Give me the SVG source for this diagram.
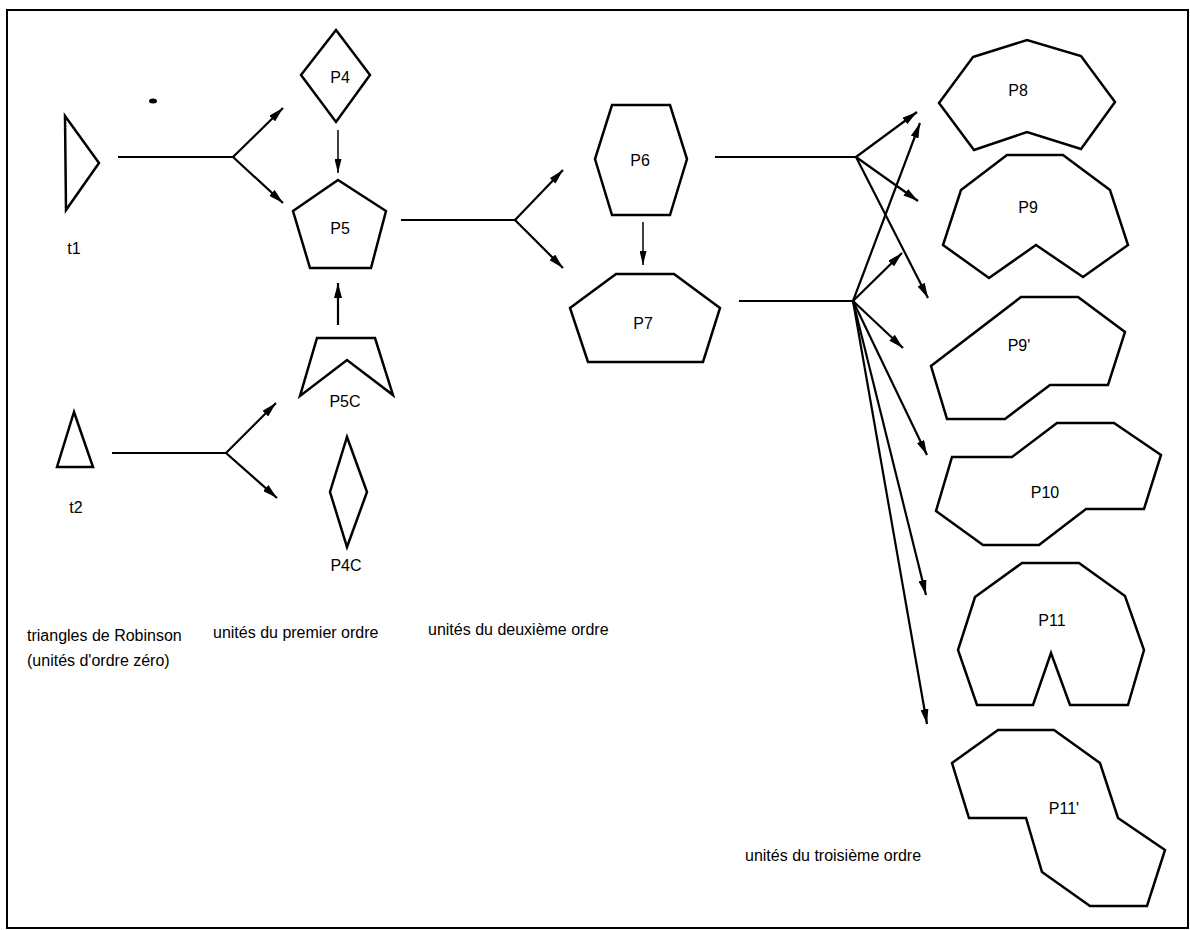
<svg xmlns="http://www.w3.org/2000/svg" width="1190" height="930" viewBox="0 0 1190 930">
<defs>
<style>
.shape{fill:none;stroke:#000;stroke-width:2.5;stroke-linejoin:miter}
.conn{fill:none;stroke:#000;stroke-width:2.2}
.thin{fill:none;stroke:#000;stroke-width:1.5}
text{font-family:"Liberation Sans","DejaVu Sans",sans-serif;font-size:16px;fill:#000}
.c{text-anchor:middle}
</style>
<marker id="ah" markerUnits="userSpaceOnUse" markerWidth="16" markerHeight="8" refX="15" refY="4" orient="auto">
<path d="M0,0 L15,4 L0,8 z" fill="#000"/>
</marker>
<marker id="ahs" markerUnits="userSpaceOnUse" markerWidth="15" markerHeight="7" refX="14" refY="3.5" orient="auto">
<path d="M0,0 L14,3.5 L0,7 z" fill="#000"/>
</marker>
</defs>
<rect width="1190" height="930" fill="#fff"/>
<rect x="7" y="10" width="1181" height="918" fill="none" stroke="#000" stroke-width="2"/>
<ellipse cx="153" cy="101" rx="4" ry="2.5" fill="#000"/>

<g id="t1"><polygon class="shape" points="65,116 99,163 66,210"/><text class="c" x="74" y="254">t1</text></g>
<g id="t2"><polygon class="shape" points="74,412 93,467 57,467"/><text class="c" x="76" y="513">t2</text></g>
<g id="P4"><polygon class="shape" points="336,30 370,75 336,122 301,75"/><text class="c" x="340" y="83">P4</text></g>
<g id="P5"><polygon class="shape" points="338,180 386,211 371,268 310,268 293,211"/><text class="c" x="340" y="234">P5</text></g>
<g id="P5C"><polygon class="shape" points="317,338 375,338 393,395 347,360 300,396"/><text class="c" x="345" y="407">P5C</text></g>
<g id="P4C"><polygon class="shape" points="347,437 367,492 347,547 330,492"/><text class="c" x="346" y="571">P4C</text></g>
<g id="P6"><polygon class="shape" points="612,105 670,105 687,159 670,215 612,215 595,159"/><text class="c" x="640" y="166">P6</text></g>
<g id="P7"><polygon class="shape" points="616,274 674,274 720,308 703,362 588,362 570,308"/><text class="c" x="643" y="329">P7</text></g>
<g id="P8"><polygon class="shape" points="973,57 1027,40 1081,56 1115,102 1081,149 1027,132 974,150 939,103"/><text class="c" x="1018" y="96">P8</text></g>
<g id="P9"><polygon class="shape" points="1007,155 1063,155 1110,190 1128,245 1083,277 1036,245 989,278 943,245 961,190"/><text class="c" x="1028" y="213">P9</text></g>
<g id="P9prime"><polygon class="shape" points="1021,297 1078,297 1125,332 1108,385 1050,385 1005,419 947,419 931,366"/><text class="c" x="1019" y="351">P9'</text></g>
<g id="P10"><polygon class="shape" points="1057,423 1114,423 1161,455 1144,509 1086,509 1039,545 983,545 936,511 952,457 1012,457"/><text class="c" x="1045" y="498">P10</text></g>
<g id="P11"><polygon class="shape" points="1022,563 1079,563 1125,596 1144,650 1128,705 1070,705 1051,653 1033,705 977,705 958,650 975,597"/><text class="c" x="1052" y="626">P11</text></g>
<g id="P11prime"><polygon class="shape" points="998,730 1054,730 1100,763 1118,818 1165,850 1147,906 1090,906 1042,872 1026,818 969,818 952,763"/><text class="c" x="1064" y="814">P11'</text></g>

<g id="labels">
<text x="27" y="641">triangles de Robinson</text>
<text x="27" y="666">(unités d'ordre zéro)</text>
<text x="213" y="638">unités du premier ordre</text>
<text x="428" y="635">unités du deuxième ordre</text>
<text x="745" y="861">unités du troisième ordre</text>
</g>

<g id="connectors">
<polyline class="conn" points="118,157 233,157"/>
<line class="conn" x1="233" y1="157" x2="283" y2="108" marker-end="url(#ah)"/>
<line class="conn" x1="233" y1="157" x2="283" y2="203" marker-end="url(#ah)"/>
<polyline class="conn" points="112,453 226,453"/>
<line class="conn" x1="226" y1="453" x2="276" y2="403" marker-end="url(#ah)"/>
<line class="conn" x1="226" y1="453" x2="277" y2="498" marker-end="url(#ah)"/>
<line class="thin" x1="338" y1="130" x2="338" y2="173" marker-end="url(#ahs)"/>
<line class="conn" x1="338" y1="325" x2="338" y2="283" marker-end="url(#ah)"/>
<polyline class="conn" points="401,220 515,220"/>
<line class="conn" x1="515" y1="220" x2="563" y2="170" marker-end="url(#ah)"/>
<line class="conn" x1="515" y1="220" x2="563" y2="268" marker-end="url(#ah)"/>
<line class="thin" x1="643" y1="222" x2="643" y2="265" marker-end="url(#ahs)"/>
<polyline class="conn" points="715,157 856,157"/>
<line class="conn" x1="856" y1="157" x2="917" y2="112" marker-end="url(#ah)"/>
<line class="conn" x1="856" y1="157" x2="918" y2="201" marker-end="url(#ah)"/>
<line class="conn" x1="856" y1="157" x2="928" y2="298" marker-end="url(#ah)"/>
<polyline class="conn" points="739,301 853,301"/>
<line class="conn" x1="853" y1="301" x2="920" y2="123" marker-end="url(#ah)"/>
<line class="conn" x1="853" y1="301" x2="902" y2="253" marker-end="url(#ah)"/>
<line class="conn" x1="853" y1="301" x2="903" y2="348" marker-end="url(#ah)"/>
<line class="conn" x1="853" y1="301" x2="927" y2="455" marker-end="url(#ah)"/>
<line class="conn" x1="853" y1="301" x2="926" y2="595" marker-end="url(#ah)"/>
<line class="conn" x1="853" y1="301" x2="927" y2="724" marker-end="url(#ah)"/>
</g>
</svg>
